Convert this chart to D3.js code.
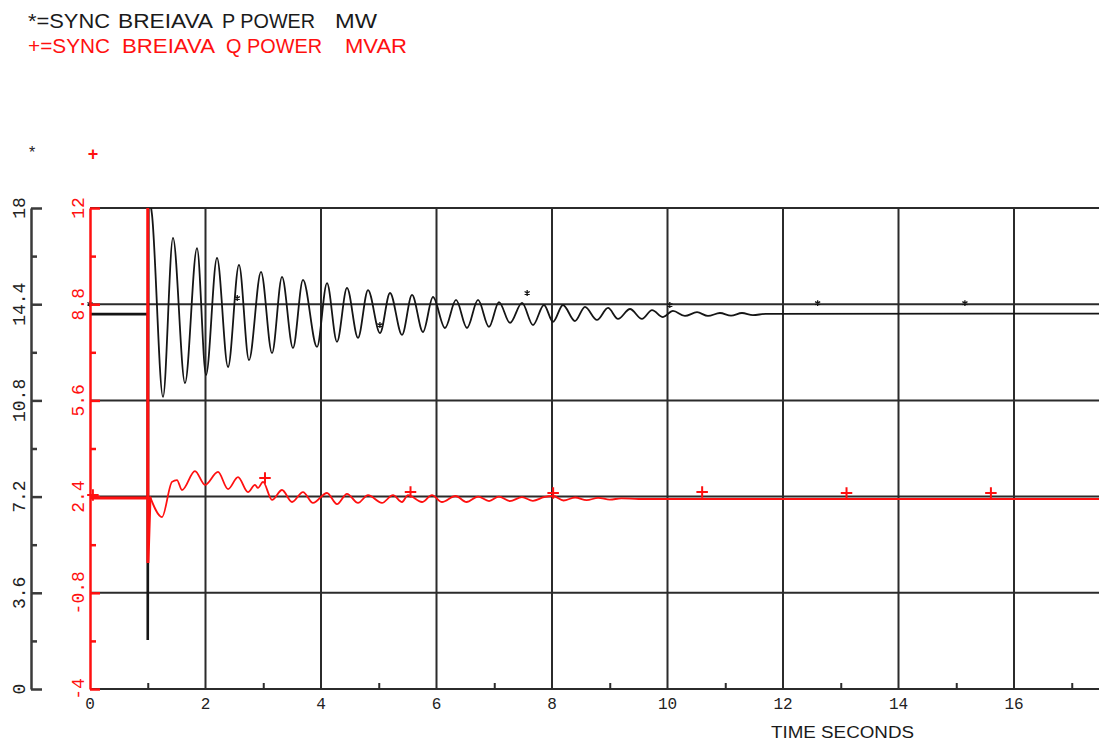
<!DOCTYPE html>
<html><head><meta charset="utf-8">
<script src="https://cdn.jsdelivr.net/npm/d3@7"></script>
<style>body{margin:0;background:#fff}svg{display:block}</style>
</head><body>
<svg id="chart" width="1099" height="740"></svg>
<script>
// ---- data ----
const pTime = [0, 1.0, 1.0, 1.01, 1.074, 1.264, 1.437, 1.645, 1.853, 2.009, 2.199, 2.390, 2.580, 2.753, 2.961, 3.152, 3.325, 3.515, 3.688, 3.931, 4.104, 4.277, 4.450, 4.641, 4.814, 5.022, 5.195, 5.403, 5.576, 5.766, 5.939, 6.147, 6.338, 6.528, 6.719, 6.909, 7.082, 7.273, 7.481, 7.671, 7.861, 8.017, 8.190, 8.398, 8.571, 8.779, 8.970, 9.143, 9.351, 9.558, 9.732, 9.922, 10.095, 10.303, 10.511, 10.701, 10.909, 11.100, 11.290, 11.48, 11.7, 17.5];
const pValue = [14.03, 14.03, 1.83, 18.6, 17.74, 10.93, 16.88, 11.45, 16.50, 11.75, 16.13, 12.05, 15.87, 12.31, 15.61, 12.57, 15.42, 12.76, 15.31, 12.80, 15.19, 12.99, 15.01, 13.14, 14.93, 13.32, 14.82, 13.25, 14.75, 13.36, 14.67, 13.51, 14.56, 13.51, 14.56, 13.55, 14.48, 13.70, 14.45, 13.62, 14.37, 13.74, 14.37, 13.77, 14.30, 13.81, 14.26, 13.85, 14.22, 13.85, 14.18, 13.92, 14.15, 13.96, 14.10, 13.96, 14.07, 13.97, 14.07, 13.99, 14.04, 14.05];
const qTime = [0, 1.0, 1.0, 1.003, 1.039, 1.247, 1.420, 1.506, 1.593, 1.818, 1.991, 2.216, 2.390, 2.563, 2.736, 2.857, 2.909, 2.996, 3.152, 3.325, 3.498, 3.688, 3.861, 4.104, 4.277, 4.450, 4.641, 4.814, 5.056, 5.247, 5.403, 5.506, 5.749, 5.922, 6.095, 6.33, 6.52, 6.72, 6.91, 7.08, 7.27, 7.48, 7.67, 7.86, 8.02, 8.20, 8.40, 8.60, 8.80, 9.00, 9.20, 9.50, 17.5];
const qValue = [2.35, 2.35, 13, 0.19, 2.40, 1.72, 2.89, 2.95, 2.62, 3.25, 2.79, 3.22, 2.65, 3.05, 2.55, 2.79, 2.69, 2.89, 2.29, 2.62, 2.22, 2.55, 2.19, 2.52, 2.15, 2.49, 2.19, 2.45, 2.19, 2.45, 2.22, 2.45, 2.22, 2.45, 2.22, 2.42, 2.22, 2.40, 2.25, 2.40, 2.25, 2.38, 2.26, 2.38, 2.42, 2.27, 2.37, 2.28, 2.36, 2.30, 2.34, 2.32, 2.32];
const pMarkT = [0, 2.55, 5.02, 7.57, 10.04, 12.6, 15.15];
const pMarkV = [14.41, 14.63, 13.62, 14.82, 14.37, 14.44, 14.44];
const qMarkT = [0.05, 3.03, 5.55, 8.02, 10.6, 13.1, 15.6];
const qMarkV = [2.45, 3.02, 2.55, 2.52, 2.55, 2.52, 2.52];

const pTicks = [0, 3.6, 7.2, 10.8, 14.4, 18];
const pTickLabels = ["0", "3.6", "7.2", "10.8", "14.4", "18"];
const pMinor = [1.8, 5.4, 9.0, 12.6, 16.2];
const qTicks = [-4, -0.8, 2.4, 5.6, 8.8, 12];
const qTickLabels = ["-4", "-0.8", "2.4", "5.6", "8.8", "12"];
const qMinor = [-2.4, 0.8, 4.0, 7.2, 10.4];
const xTicks = [0, 2, 4, 6, 8, 10, 12, 14, 16];
const xTickLabels = ["0", "2", "4", "6", "8", "10", "12", "14", "16"];
const xMinor = [1, 3, 5, 7, 9, 11, 13, 15, 17];

const legendP = ["*=SYNC", "BREIAVA", "P POWER", "MW"];
const legendQ = ["+=SYNC", "BREIAVA", "Q POWER", "MVAR"];
const xTitle = "TIME SECONDS";

// ---- layout ----
const W = 1099;
const L = 90, T = 208, B = 689;
const svg = d3.select("#chart");
const x = d3.scaleLinear().domain([0, 16]).range([L, 1014]);
const yP = d3.scaleLinear().domain([0, 18]).range([B, T]);
const yQ = d3.scaleLinear().domain([-4, 12]).range([B, T]);
const GRID = "#2b2b2b", RED = "#ff1010", BLK = "#151515";

svg.append("defs").append("clipPath").attr("id", "clip")
  .append("rect").attr("x", L).attr("y", T).attr("width", W - L).attr("height", B - T);

// gridlines
const grid = svg.append("g").attr("stroke", GRID).attr("stroke-width", 2);
grid.selectAll("line.h").data(pTicks).join("line").attr("class", "h")
  .attr("x1", L).attr("x2", W).attr("y1", d => yP(d)).attr("y2", d => yP(d));
grid.selectAll("line.v").data(xTicks.filter(d => d > 0)).join("line").attr("class", "v")
  .attr("y1", T).attr("y2", B).attr("x1", d => x(d)).attr("x2", d => x(d));

// bottom minor ticks
const bx = svg.append("g").attr("transform", `translate(0,${B})`)
  .call(d3.axisTop(x).tickValues(xMinor.filter(d => x(d) < W)).tickSize(6).tickFormat(""));
bx.select(".domain").remove();
bx.selectAll("line").attr("stroke", GRID).attr("stroke-width", 2);

// left black axis
const ax1 = svg.append("g").attr("transform", "translate(31,0)")
  .call(d3.axisRight(yP).tickValues(pTicks).tickSize(11).tickSizeOuter(0).tickFormat(""));
ax1.select(".domain").attr("stroke", "#3a3a3a").attr("stroke-width", 2.5);
ax1.selectAll("line").attr("stroke", "#3a3a3a").attr("stroke-width", 2.5);
const ax1m = svg.append("g").attr("transform", "translate(31,0)")
  .call(d3.axisRight(yP).tickValues(pMinor).tickSize(6).tickFormat(""));
ax1m.select(".domain").remove();
ax1m.selectAll("line").attr("stroke", "#3a3a3a").attr("stroke-width", 2.5);

// series
const pts = (ts, vs) => ts.map((t, i) => [t, vs[i]]);
const pData = pts(pTime, pValue), qData = pts(qTime, qValue);
const plot = svg.append("g").attr("clip-path", "url(#clip)");
const lineP = d3.line().x(d => x(d[0])).y(d => yP(d[1]));
const lineQ = d3.line().x(d => x(d[0])).y(d => yQ(d[1]));
plot.append("path").attr("d", lineP(pData.slice(0, 4))).attr("fill", "none").attr("stroke", BLK).attr("stroke-width", 2.6);
plot.append("path").attr("d", lineP.curve(d3.curveMonotoneX)(pData.slice(3))).attr("fill", "none").attr("stroke", BLK).attr("stroke-width", 1.8);
plot.append("path").attr("d", lineQ(qData.slice(0, 5))).attr("fill", "none").attr("stroke", RED).attr("stroke-width", 3);
plot.append("path").attr("d", lineQ.curve(d3.curveMonotoneX)(qData.slice(4))).attr("fill", "none").attr("stroke", RED).attr("stroke-width", 1.8);

// markers
svg.append("g").selectAll("path").data(pts(pMarkT, pMarkV)).join("path")
  .attr("transform", d => `translate(${x(d[0])},${yP(d[1])})`)
  .attr("d", d3.symbol(d3.symbolAsterisk, 24)).attr("fill", "none").attr("stroke", BLK).attr("stroke-width", 1.3);
svg.append("g").selectAll("path").data(pts(qMarkT, qMarkV)).join("path")
  .attr("transform", d => `translate(${x(d[0])},${yQ(d[1])})`)
  .attr("d", d3.symbol(d3.symbolPlus, 45)).attr("fill", "none").attr("stroke", RED).attr("stroke-width", 2);

// red axis
const ax2 = svg.append("g").attr("transform", `translate(${L},0)`)
  .call(d3.axisRight(yQ).tickValues(qTicks).tickSize(10).tickSizeOuter(0).tickFormat(""));
ax2.select(".domain").attr("stroke", RED).attr("stroke-width", 2.5);
ax2.selectAll("line").attr("stroke", RED).attr("stroke-width", 2.5);
const ax2m = svg.append("g").attr("transform", `translate(${L},0)`)
  .call(d3.axisRight(yQ).tickValues(qMinor).tickSize(6).tickFormat(""));
ax2m.select(".domain").remove();
ax2m.selectAll("line").attr("stroke", RED).attr("stroke-width", 2.5);

// axis labels
const mono = "'Liberation Mono','DejaVu Sans Mono',monospace";
svg.append("g").selectAll("text").data(pTicks).join("text")
  .attr("transform", d => `translate(20,${yP(d)}) rotate(-90)`)
  .attr("text-anchor", "middle").attr("dominant-baseline", "central")
  .attr("font-family", mono).attr("font-size", 18).attr("fill", "#222")
  .text((d, i) => pTickLabels[i]);
svg.append("g").selectAll("text").data(qTicks).join("text")
  .attr("transform", d => `translate(79,${yQ(d)}) rotate(-90)`)
  .attr("text-anchor", "middle").attr("dominant-baseline", "central")
  .attr("font-family", mono).attr("font-size", 18).attr("fill", RED)
  .text((d, i) => qTickLabels[i]);
svg.append("g").selectAll("text").data(xTicks).join("text")
  .attr("x", d => x(d)).attr("y", 709).attr("text-anchor", "middle")
  .attr("font-family", mono).attr("font-size", 16).attr("fill", "#222")
  .text((d, i) => xTickLabels[i]);

// series identifiers above axes
svg.append("text").attr("x", 32).attr("y", 158).attr("text-anchor", "middle")
  .attr("font-family", "'Liberation Sans',Arial,sans-serif").attr("font-size", 16).attr("fill", "#222").text("*");
svg.append("text").attr("x", 93).attr("y", 160).attr("text-anchor", "middle")
  .attr("font-family", "'Liberation Sans',Arial,sans-serif").attr("font-size", 18).attr("font-weight", "bold").attr("fill", RED).text("+");

// legend
const sans = "'Liberation Sans',Arial,sans-serif";
const legPX = [28, 118, 222, 335], legPW = [82, 95, 93, 42];
const legQX = [28, 122, 226, 345], legQW = [82, 93, 96, 62];
const tP = svg.append("text").attr("y", 28).attr("font-family", sans).attr("font-size", 21).attr("fill", "#1a1a1a");
tP.selectAll("tspan").data(legendP).join("tspan").attr("x", (d, i) => legPX[i])
  .attr("textLength", (d, i) => legPW[i]).attr("lengthAdjust", "spacingAndGlyphs").text(d => d);
const tQ = svg.append("text").attr("y", 53).attr("font-family", sans).attr("font-size", 21).attr("fill", RED);
tQ.selectAll("tspan").data(legendQ).join("tspan").attr("x", (d, i) => legQX[i])
  .attr("textLength", (d, i) => legQW[i]).attr("lengthAdjust", "spacingAndGlyphs").text(d => d);

// x title
svg.append("text").attr("x", 771).attr("y", 738).attr("font-family", sans).attr("font-size", 16)
  .attr("fill", "#1a1a1a").attr("textLength", 143).attr("lengthAdjust", "spacingAndGlyphs").text(xTitle);
</script>
</body></html>
